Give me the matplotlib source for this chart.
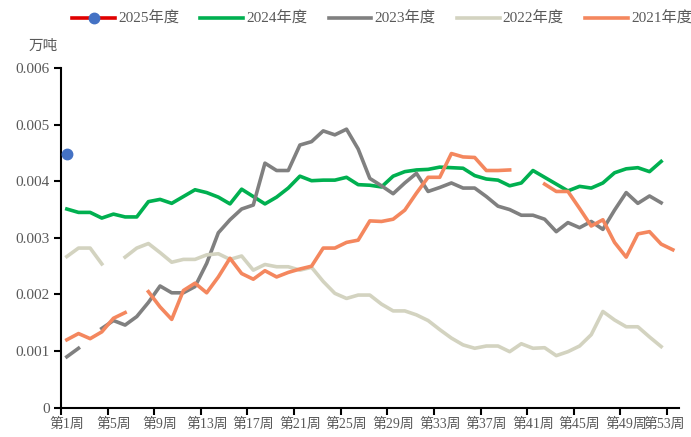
import numpy as np
import matplotlib
matplotlib.use("Agg")
import matplotlib.pyplot as plt
from matplotlib.ticker import FixedLocator, NullFormatter
from matplotlib.transforms import ScaledTranslation

plt.rcParams["font.family"] = ["Liberation Serif", "Noto Sans CJK SC"]

nan = np.nan

# weekly values, unit: 万吨
weeks_2025 = [1]
values_2025 = [0.00448]

values_2024 = [0.00351, 0.00345, 0.00345, 0.00335, 0.00342, 0.00337, 0.00337, 0.00364, 0.00368, 0.00361,
               0.00373, 0.00385, 0.00380, 0.00372, 0.00360, 0.00386, 0.00373, 0.00360, 0.00372, 0.00388,
               0.00409, 0.00401, 0.00402, 0.00402, 0.00407, 0.00394, 0.00393, 0.00390, 0.00409, 0.00417,
               0.00420, 0.00421, 0.00425, 0.00424, 0.00423, 0.00410, 0.00404, 0.00402, 0.00392, 0.00397,
               0.00419, 0.00407, 0.00395, 0.00383, 0.00391, 0.00388, 0.00397, 0.00415, 0.00422, 0.00424,
               0.00417, 0.00435]

values_2023 = [0.00090, 0.00105, nan, 0.00140, 0.00154, 0.00146, 0.00161, 0.00186, 0.00215, 0.00203,
               0.00203, 0.00214, 0.00255, 0.00309, 0.00332, 0.00351, 0.00358, 0.00432, 0.00419, 0.00419,
               0.00464, 0.00470, 0.00489, 0.00482, 0.00492, 0.00457, 0.00405, 0.00392, 0.00378, 0.00397,
               0.00414, 0.00382, 0.00389, 0.00397, 0.00388, 0.00388, 0.00373, 0.00356, 0.00350, 0.00340,
               0.00340, 0.00333, 0.00311, 0.00327, 0.00318, 0.00329, 0.00315, 0.00349, 0.00380, 0.00361,
               0.00374, 0.00362]

values_2022 = [0.00267, 0.00282, 0.00282, 0.00254, nan, 0.00266, 0.00282, 0.00290, 0.00274, 0.00257,
               0.00262, 0.00262, 0.00270, 0.00272, 0.00262, 0.00268, 0.00243, 0.00253, 0.00249, 0.00249,
               0.00243, 0.00248, 0.00223, 0.00202, 0.00193, 0.00199, 0.00199, 0.00183, 0.00171, 0.00171,
               0.00164, 0.00154, 0.00138, 0.00123, 0.00111, 0.00105, 0.00109, 0.00109, 0.00099, 0.00113,
               0.00105, 0.00106, 0.00092, 0.00099, 0.00109, 0.00129, 0.00170, 0.00155, 0.00143, 0.00143,
               0.00125, 0.00108]

values_2021 = [0.00120, 0.00131, 0.00122, 0.00134, 0.00158, 0.00168, nan, 0.00205, 0.00178, 0.00156,
               0.00207, 0.00220, 0.00203, 0.00231, 0.00264, 0.00237, 0.00227, 0.00242, 0.00231, 0.00239,
               0.00245, 0.00250, 0.00282, 0.00282, 0.00292, 0.00296, 0.00330, 0.00329, 0.00333, 0.00349,
               0.00379, 0.00407, 0.00407, 0.00449, 0.00443, 0.00442, 0.00419, 0.00419, 0.00420, nan,
               nan, 0.00395, 0.00382, 0.00382, 0.00352, 0.00321, 0.00332, 0.00292, 0.00266, 0.00307,
               0.00311, 0.00289, 0.00279]

n_weeks = 53
week_labels = ["第%d周" % w for w in range(1, n_weeks + 1, 4)]
y_ticks = [0, 0.001, 0.002, 0.003, 0.004, 0.005, 0.006]
y_labels = ["0", "0.001", "0.002", "0.003", "0.004", "0.005", "0.006"]

text_color = "#595959"
lw = 2.6

fig = plt.figure(figsize=(6.91, 4.37), dpi=100)
ax = fig.add_axes([0.0883, 0.067, 0.8938, 0.7773])

ax.plot(weeks_2025, values_2025, color="#E00000", lw=lw, marker="o", markersize=7.5,
        markerfacecolor="#4472C4", markeredgecolor="#4472C4", label="2025年度", zorder=5)
ax.plot(np.arange(1, len(values_2024) + 1), values_2024, color="#00B050", lw=lw, label="2024年度")
ax.plot(np.arange(1, len(values_2023) + 1), values_2023, color="#808080", lw=lw, label="2023年度")
ax.plot(np.arange(1, len(values_2022) + 1), values_2022, color="#D3D3C0", lw=lw, label="2022年度")
ax.plot(np.arange(1, len(values_2021) + 1), values_2021, color="#F4875E", lw=lw, label="2021年度")

ax.set_xlim(0.5, n_weeks + 0.5)
ax.set_ylim(0, 0.006)

# tick marks sit on category boundaries, labels on the category centres
ax.xaxis.set_major_locator(FixedLocator(np.arange(0.5, n_weeks + 0.5, 4)))
ax.xaxis.set_major_formatter(NullFormatter())
ax.xaxis.set_minor_locator(FixedLocator(np.arange(1, n_weeks + 1, 4)))
ax.set_xticklabels(week_labels, minor=True)
ax.tick_params(axis="x", which="major", direction="out", length=5, width=1.5, color="black")
ax.tick_params(axis="x", which="minor", length=0, pad=7, labelsize=10, labelcolor=text_color)

# nudge the last week label so it stays inside the figure
last = ax.get_xticklabels(minor=True)[-1]
last.set_transform(last.get_transform() + ScaledTranslation(-6 / 72, 0, fig.dpi_scale_trans))

ax.set_yticks(y_ticks)
ax.set_yticklabels(y_labels)
ax.tick_params(axis="y", direction="out", length=5, width=1.5, color="black",
               labelsize=11, labelcolor=text_color, pad=3)

for side in ["top", "right"]:
    ax.spines[side].set_visible(False)
for side in ["left", "bottom"]:
    ax.spines[side].set_linewidth(1.5)
    ax.spines[side].set_color("black")

fig.text(0.062, 0.895, "万吨", fontsize=10.5, color=text_color, ha="center", va="center")

fig.legend(loc="center", bbox_to_anchor=(0.553, 0.957), ncol=5, frameon=False,
           fontsize=11, handlelength=2.8, handletextpad=0.2, columnspacing=1.4,
           labelcolor=text_color)

fig.savefig("out.png", dpi=100)
